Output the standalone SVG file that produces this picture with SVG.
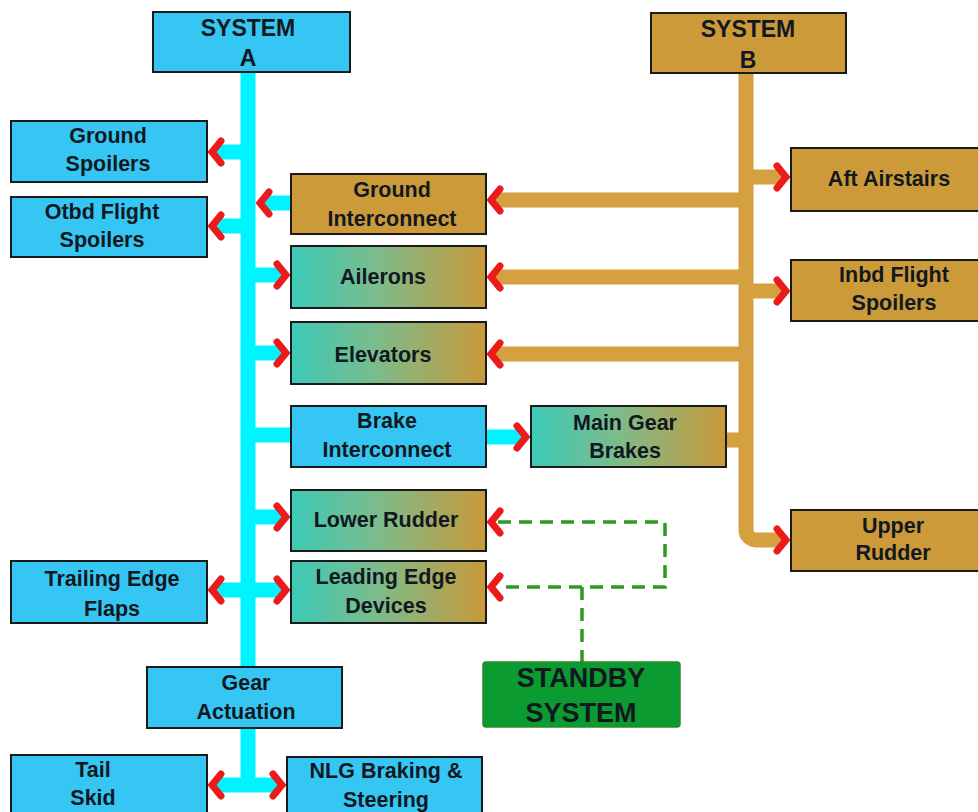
<svg xmlns="http://www.w3.org/2000/svg" width="978" height="812" viewBox="0 0 978 812">
<defs>
<linearGradient id="mix" x1="0" y1="0" x2="1" y2="0">
<stop offset="0" stop-color="#3ccab8"/>
<stop offset="0.45" stop-color="#7dbb8a"/>
<stop offset="1" stop-color="#c9993a"/>
</linearGradient>
<path id="chev" d="M10,-11 L1,0 L10,11" fill="none" stroke="#ec1a1a" stroke-width="7" stroke-linecap="round"/>
</defs>
<style>
.blue{fill:#36c6f4;stroke:#1a1a1a;stroke-width:2}
.gold{fill:#cc9a38;stroke:#1a1a1a;stroke-width:2}
.mix{fill:url(#mix);stroke:#1a1a1a;stroke-width:2}
.sb{fill:#0b9b30;stroke:#2a8a2a;stroke-width:1.5}
text{font-family:"Liberation Sans",Arial,sans-serif;font-weight:bold;font-size:21.5px;fill:#111820;text-anchor:middle}
.big{font-size:23px}
.sbt{font-size:27px}
.cy{stroke:#00f4ff;stroke-width:15;fill:none}
.gd{stroke:#d4a040;stroke-width:15;fill:none}
.dash{stroke:#2f9a22;stroke-width:3.5;fill:none;stroke-dasharray:13 8}
</style>
<rect width="978" height="812" fill="#ffffff"/>
<g id="connectors">
<path class="cy" d="M248,72 V667"/>
<path class="cy" d="M248,728 V792"/>
<path class="cy" d="M248,152 H216"/>
<path class="cy" d="M291,203 H262"/>
<path class="cy" d="M248,226 H216"/>
<path class="cy" d="M248,275 H282"/>
<path class="cy" d="M248,353 H282"/>
<path class="cy" d="M248,435 H291"/>
<path class="cy" d="M486,437 H522"/>
<path class="cy" d="M248,517 H282"/>
<path class="cy" d="M216,590 H282"/>
<path class="cy" d="M216,785 H278"/>
<path class="gd" d="M746,74 V530 A10,10 0 0 0 756,540 H784"/>
<path class="gd" d="M746,177 H783"/>
<path class="gd" d="M746,200 H495"/>
<path class="gd" d="M746,277 H495"/>
<path class="gd" d="M746,291 H783"/>
<path class="gd" d="M746,354 H495"/>
<path class="gd" d="M726,440 H746"/>
<path class="dash" d="M498,522 H665 V587 H498"/>
<path class="dash" d="M582,587 V662"/>
<use href="#chev" transform="translate(211,152)"/>
<use href="#chev" transform="translate(211,226)"/>
<use href="#chev" transform="translate(259,203)"/>
<use href="#chev" transform="translate(287,275) scale(-1,1)"/>
<use href="#chev" transform="translate(287,353) scale(-1,1)"/>
<use href="#chev" transform="translate(527,437) scale(-1,1)"/>
<use href="#chev" transform="translate(287,517) scale(-1,1)"/>
<use href="#chev" transform="translate(211,590)"/>
<use href="#chev" transform="translate(287,590) scale(-1,1)"/>
<use href="#chev" transform="translate(211,785)"/>
<use href="#chev" transform="translate(283,785) scale(-1,1)"/>
<use href="#chev" transform="translate(490,200)"/>
<use href="#chev" transform="translate(490,277)"/>
<use href="#chev" transform="translate(490,354)"/>
<use href="#chev" transform="translate(787,177) scale(-1,1)"/>
<use href="#chev" transform="translate(787,291) scale(-1,1)"/>
<use href="#chev" transform="translate(787,540) scale(-1,1)"/>
<use href="#chev" transform="translate(490,522)"/>
<use href="#chev" transform="translate(490,587)"/>
</g>
<g id="system-a"><rect class="blue" x="153" y="12" width="197" height="60"/><text class="big" x="248" y="36">SYSTEM</text><text class="big" x="248" y="66">A</text></g>
<g id="system-b"><rect class="gold" x="651" y="13" width="195" height="60"/><text class="big" x="748" y="37">SYSTEM</text><text class="big" x="748" y="68">B</text></g>
<g id="ground-spoilers"><rect class="blue" x="11" y="121" width="196" height="61"/><text x="108" y="143">Ground</text><text x="108" y="171">Spoilers</text></g>
<g id="otbd-flight-spoilers"><rect class="blue" x="11" y="197" width="196" height="60"/><text x="102" y="219">Otbd Flight</text><text x="102" y="247">Spoilers</text></g>
<g id="ground-interconnect"><rect class="gold" x="291" y="174" width="195" height="60"/><text x="392" y="197">Ground</text><text x="392" y="226">Interconnect</text></g>
<g id="ailerons"><rect class="mix" x="291" y="246" width="195" height="62"/><text x="383" y="284">Ailerons</text></g>
<g id="elevators"><rect class="mix" x="291" y="322" width="195" height="62"/><text x="383" y="362">Elevators</text></g>
<g id="brake-interconnect"><rect class="blue" x="291" y="406" width="195" height="61"/><text x="387" y="428">Brake</text><text x="387" y="457">Interconnect</text></g>
<g id="main-gear-brakes"><rect class="mix" x="531" y="406" width="195" height="61"/><text x="625" y="430">Main Gear</text><text x="625" y="458">Brakes</text></g>
<g id="lower-rudder"><rect class="mix" x="291" y="490" width="195" height="61"/><text x="386" y="527">Lower Rudder</text></g>
<g id="leading-edge-devices"><rect class="mix" x="291" y="561" width="195" height="62"/><text x="386" y="584">Leading Edge</text><text x="386" y="613">Devices</text></g>
<g id="trailing-edge-flaps"><rect class="blue" x="11" y="561" width="196" height="62"/><text x="112" y="586">Trailing Edge</text><text x="112" y="616">Flaps</text></g>
<g id="gear-actuation"><rect class="blue" x="147" y="667" width="195" height="61"/><text x="246" y="690">Gear</text><text x="246" y="719">Actuation</text></g>
<g id="tail-skid"><rect class="blue" x="11" y="755" width="196" height="62"/><text x="93" y="777">Tail</text><text x="93" y="805">Skid</text></g>
<g id="nlg-braking-steering"><rect class="blue" x="287" y="757" width="195" height="62"/><text x="386" y="778">NLG Braking &amp;</text><text x="386" y="807">Steering</text></g>
<g id="aft-airstairs"><rect class="gold" x="791" y="148" width="195" height="63"/><text x="889" y="186">Aft Airstairs</text></g>
<g id="inbd-flight-spoilers"><rect class="gold" x="791" y="260" width="195" height="61"/><text x="894" y="282">Inbd Flight</text><text x="894" y="310">Spoilers</text></g>
<g id="upper-rudder"><rect class="gold" x="791" y="510" width="195" height="61"/><text x="893" y="533">Upper</text><text x="893" y="560">Rudder</text></g>
<g id="standby-system"><rect class="sb" x="483" y="662" width="197" height="65" rx="3"/><text class="sbt" x="581" y="687">STANDBY</text><text class="sbt" x="581" y="722">SYSTEM</text></g>
</svg>
